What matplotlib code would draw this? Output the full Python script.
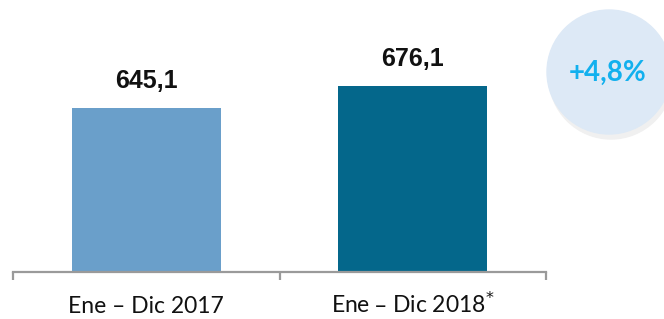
import matplotlib
matplotlib.use("Agg")
import matplotlib.pyplot as plt
from matplotlib.patches import Circle

# data
categories = ["Ene – Dic 2017", "Ene – Dic 2018$^{*}$"]
values = [645.1, 676.1]
value_labels = ["645,1", "676,1"]
bar_colors = ["#6A9FCA", "#04678B"]
growth_label = "+4,8%"

fig = plt.figure(figsize=(6.64, 3.19), dpi=100)

# main bar axes, placed in pixel terms of the 664x319 canvas
W, H = 664, 319
ax = fig.add_axes([13 / W, 47 / H, (546 - 13) / W, 272 / H])
x = range(len(categories))
ax.bar(x, values, width=0.56, color=bar_colors, zorder=2)
ax.set_xlim(-0.5, 1.5)
ax.set_ylim(414, 797)

for xi, v, lab in zip(x, values, value_labels):
    ax.annotate(lab, (xi, v), xytext=(0, 14.5), textcoords="offset points",
                ha="center", va="baseline", fontsize=18, fontweight="bold",
                family="Liberation Sans", color="#111111")

for s in ["top", "right", "left"]:
    ax.spines[s].set_visible(False)
ax.spines["bottom"].set_color("#9A9A9A")
ax.spines["bottom"].set_linewidth(1.6)
ax.set_yticks([])

ax.set_xticks(list(x))
ax.set_xticklabels(categories, fontsize=16.5, family="Lato", color="#111111")
# baseline-aligned so the superscript does not push the second label down
for t in ax.get_xticklabels():
    t.set_verticalalignment("baseline")
ax.tick_params(axis="x", which="major", length=0, pad=29.5)
ax.set_xticks([-0.5, 0.5, 1.5], minor=True)
ax.tick_params(axis="x", which="minor", length=6, width=1.6, color="#9A9A9A")

# growth bubble
ov = fig.add_axes([0, 0, 1, 1], zorder=3)
ov.set_xlim(0, W)
ov.set_ylim(H, 0)
ov.axis("off")
ov.add_patch(Circle((611, 77), 62, color="#F0F0F0", zorder=1))
ov.add_patch(Circle((609, 72), 62, color="#DDE9F6", zorder=2))
ov.text(608, 73, growth_label, ha="center", va="center", fontsize=20,
        fontweight="bold", family="Lato", color="#12B0EE", zorder=3)

fig.savefig("out.png", dpi=100)
